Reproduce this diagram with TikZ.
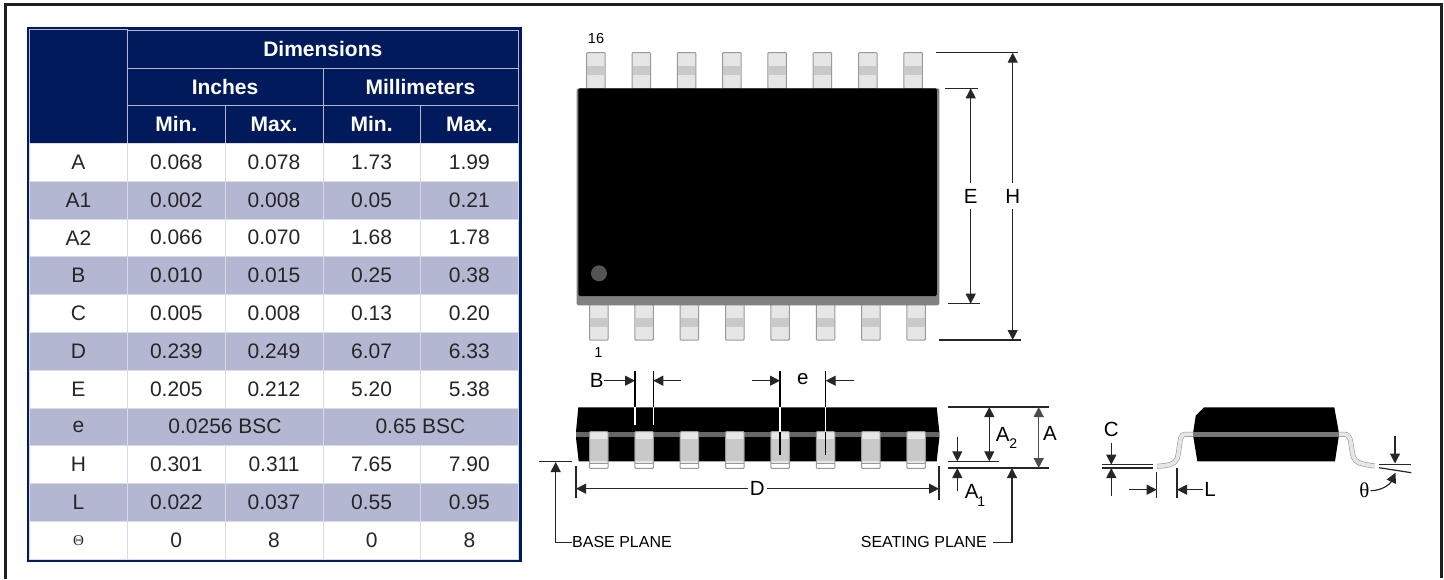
\documentclass[tikz,border=0pt]{standalone}
\usepackage{xcolor}
\usepackage{fontspec}
\setmainfont{Liberation Sans}
\newfontfamily\thetafont{Liberation Serif}
\usetikzlibrary{arrows.meta, calc}

\definecolor{tablenavy}{HTML}{001A5C}
\definecolor{tableband}{HTML}{B3B7D1}
\definecolor{tablegrid}{HTML}{D9DBE9}
\definecolor{leadlight}{HTML}{E6E6E6}
\definecolor{leadmid}{HTML}{C9C9C9}
\definecolor{leadedge}{HTML}{999999}

\tikzset{
    headcell/.style={rectangle, draw=tableband, fill=tablenavy, text=white, inner sep=0pt,
          font=\fontsize{21}{23}\selectfont\bfseries},
    bodycell/.style={rectangle, draw=tablegrid, inner sep=0pt, text=black!85,
          font=\fontsize{21}{23}\selectfont},
    dimlabel/.style={inner sep=1pt, minimum height=26pt, font=\fontsize{20.5}{23}\selectfont},
    smalllabel/.style={inner sep=0pt, font=\fontsize{16}{18}\selectfont},
    sublabel/.style={inner sep=0pt, font=\fontsize{14}{16}\selectfont},
    pinlabel/.style={inner sep=0pt, font=\fontsize{14.5}{16}\selectfont},
    dimline/.style={draw=black!85, line width=1.2pt, -{Triangle[length=10pt,width=10pt]}},
    dimboth/.style={draw=black!85, line width=1.2pt, {Triangle[length=10pt,width=10pt]}-{Triangle[length=10pt,width=10pt]}},
    plainline/.style={draw=black!85, line width=1.2pt},
    leadbox/.style={draw=leadedge, fill=leadlight, line width=1pt, rounded corners=0.8pt},
    sidelead/.style={draw=leadedge, double=leadlight, line width=0.6pt, double distance=3.8pt}
}

\begin{document}
\begin{tikzpicture}[x=1pt, y=-1pt]
    \useasboundingbox (0,0) rectangle (1444,579);
    \draw[line width=3pt, draw=black!88] (5,579) -- (5,4) -- (1441.5,4) -- (1441.5,578);

    % table
    \fill[tablenavy] (27,27) rectangle (521.5,562);
    \node[headcell, minimum width=97.8pt, minimum height=113.2pt] (corner) at (78.5,86.1) {};
    \node[headcell, minimum width=390.8pt, minimum height=37.8pt] (dims) at (322.8,48.9) {Dimensions};
    \node[headcell, minimum width=195.3pt, minimum height=37.8pt] (inches) at (225.05,86.7) {Inches};
    \node[headcell, minimum width=195.5pt, minimum height=37.8pt] (millim) at (420.45,86.7) {Millimeters};
    \foreach \cx/\lab [count=\c] in {176.3/Min., 274/Max., 371.6/Min., 469.4/Max.}
        \node[headcell, minimum width=97.7pt, minimum height=37.8pt] (head\c) at (\cx,124.3) {\lab};
    \foreach \n/\a/\b/\p/\q/\bandcol [count=\r from 0] in {
        A/0.068/0.078/1.73/1.99/white,
        A1/0.002/0.008/0.05/0.21/tableband,
        A2/0.066/0.070/1.68/1.78/white,
        B/0.010/0.015/0.25/0.38/tableband,
        C/0.005/0.008/0.13/0.20/white,
        D/0.239/0.249/6.07/6.33/tableband,
        E/0.205/0.212/5.20/5.38/white,
        e/-/-/-/-/tableband,
        H/0.301/0.311/7.65/7.90/white,
        L/0.022/0.037/0.55/0.95/tableband,
        {\fontsize{15}{17}\selectfont\thetafont Θ}/0/8/0/8/white}{
        \pgfmathsetmacro{\ry}{162.1+37.8*\r}
        \node[bodycell, fill=\bandcol, minimum width=97.8pt, minimum height=37.8pt] (name\r) at (78.5,\ry) {\n};
        \ifnum\r=7
            \node[bodycell, fill=\bandcol, minimum width=195.3pt, minimum height=37.8pt] (ebscin) at (225.05,\ry) {0.0256 BSC};
            \node[bodycell, fill=\bandcol, minimum width=195.5pt, minimum height=37.8pt] (ebscmm) at (420.45,\ry) {0.65 BSC};
        \else
            \node[bodycell, fill=\bandcol, minimum width=97.7pt, minimum height=37.8pt] (mina\r) at (176.3,\ry) {\a};
            \node[bodycell, fill=\bandcol, minimum width=97.7pt, minimum height=37.8pt] (maxa\r) at (274,\ry) {\b};
            \node[bodycell, fill=\bandcol, minimum width=97.7pt, minimum height=37.8pt] (minb\r) at (371.6,\ry) {\p};
            \node[bodycell, fill=\bandcol, minimum width=97.7pt, minimum height=37.8pt] (maxb\r) at (469.4,\ry) {\q};
        \fi
    }

    % top view
    \foreach \i in {0,...,7}{
        \path[leadbox] ({586.7+45.3*\i},52.7) rectangle ({605.2+45.3*\i},88.5);
        \fill[leadmid] ({587.2+45.3*\i},65.7) rectangle ({604.7+45.3*\i},75);
        \path[leadbox] ({589.5+45.35*\i},304) rectangle ({608+45.35*\i},340);
        \fill[leadmid] ({590+45.35*\i},318) rectangle ({607.5+45.35*\i},326.7);
    }
    \fill[black!50, rounded corners=1.5pt] (576.7,88.3) rectangle (939.3,305.3);
    \fill[black, rounded corners=1.5pt] (578.3,88.3) rectangle (936.8,296);
    \fill[black!67] (599,273.3) circle (8pt);
    \node[pinlabel] (pin16) at (596,38.3) {16};
    \node[pinlabel] (pin1) at (598.3,352.3) {1};

    \coordinate (Hup) at (1012.7,52.7);
    \coordinate (Hdown) at (1012.7,340);
    \coordinate (Eup) at (970.7,88.3);
    \coordinate (Edown) at (970.7,303.7);
    \node[dimlabel] (Hlab) at (1012.7,196) {H};
    \node[dimlabel] (Elab) at (970.7,196) {E};
    \draw[plainline] (936,52.7) -- (1018,52.7);
    \draw[plainline] (938.7,340) -- (1021.3,340);
    \draw[plainline] (945,88.3) -- (977.7,88.3);
    \draw[plainline] (948,303.7) -- (980,303.7);
    \draw[dimline] (Hlab) -- (Hup);
    \draw[dimline] (Hlab) -- (Hdown);
    \draw[dimline] (Elab) -- (Eup);
    \draw[dimline] (Elab) -- (Edown);

    % front view
    \fill[black] (578.3,407.3) -- (936.7,407.3) -- (939.3,431.7) -- (939.3,438)
        -- (936.7,461.3) -- (578.7,461.3) -- (576,438) -- (576,431.7) -- cycle;
    \fill[black!60] (576,431.7) rectangle (939.3,436.7);
    \foreach \i in {0,...,7}{
        \fill[leadmid] ({589.5+45.35*\i},432) rectangle ({608+45.35*\i},463.5);
        \fill[leadlight] ({589.5+45.35*\i},432) rectangle ({608+45.35*\i},439.3);
        \fill[leadlight] ({589.5+45.35*\i},461) rectangle ({608+45.35*\i},463.5);
        \path[draw=leadedge, line width=1pt, rounded corners=0.8pt, fill=none]
            ({589.5+45.35*\i},431.7) rectangle ({608+45.35*\i},468.3);
        \draw[leadedge, line width=0.8pt] ({589.5+45.35*\i},463.4) -- ({608+45.35*\i},463.4);
    }

    \node[dimlabel] (Blab) at (596.7,380.7) {B};
    \coordinate (Btipa) at (635,380.7);
    \coordinate (Btipb) at (653.3,380.7);
    \coordinate (Bfrom) at (680.7,380.7);
    \draw[dimline, shorten <=-1pt] (Blab) -- (Btipa);
    \draw[dimline] (Bfrom) -- (Btipb);
    \node[dimlabel] (elab) at (802.7,379) {e};
    \coordinate (etipa) at (780,380.7);
    \coordinate (etipb) at (825.7,380.7);
    \coordinate (efroma) at (752,380.7);
    \coordinate (efromb) at (854,380.7);
    \draw[dimline] (efroma) -- (etipa);
    \draw[dimline] (efromb) -- (etipb);
    \foreach \tx in {635,653.3,780,825.7}
        \draw[black, line width=1.2pt] (\tx,371) -- (\tx,407.3);
    \foreach \tx in {635,653.3}
        \draw[white, line width=1.4pt] (\tx,407.3) -- (\tx,424.7);
    \foreach \tx in {780,825.7}{
        \draw[white, line width=1.4pt] (\tx,407.3) -- (\tx,432);
        \draw[black, line width=1.2pt] (\tx,432) -- (\tx,455);
    }

    \node[dimlabel, minimum height=20pt, inner sep=2pt] (Dlab) at (757.3,488.7) {D};
    \coordinate (Dleft) at (576,488.7);
    \coordinate (Dright) at (939,488.7);
    \draw[dimline] (Dlab) -- (Dleft);
    \draw[dimline] (Dlab) -- (Dright);
    \draw[plainline] (576,466) -- (576,497.7);
    \draw[plainline] (939,466) -- (939,500);

    \node[smalllabel, anchor=west] (baseplane) at (572,542.3) {BASE PLANE};
    \node[smalllabel, anchor=east] (seatplane) at (987,542.3) {SEATING PLANE};
    \coordinate (basetip) at (555.7,462);
    \coordinate (seattip) at (1012,468);
    \draw[plainline] (539.3,461.3) -- (572.3,461.3);
    \draw[dimline] (baseplane.west) -| (basetip);
    \draw[dimline, shorten <=6pt] (seatplane.east) -| (seattip);

    \draw[plainline] (948,407) -- (1048.7,407);
    \draw[plainline] (948,461.3) -- (998.7,461.3);
    \draw[plainline] (948,468) -- (1048.7,468);
    \coordinate (Atwoup) at (989.3,407);
    \coordinate (Atwodown) at (989.3,461.3);
    \coordinate (Aup) at (1038.7,407);
    \coordinate (Adown) at (1038.7,468);
    \draw[dimboth] (Atwoup) -- (Atwodown);
    \draw[dimboth, black!70, line width=1.4pt] (Aup) -- (Adown);
    \coordinate (Aonea) at (957.3,436.7);
    \coordinate (Aoneb) at (957.3,461.3);
    \coordinate (Aonec) at (957.3,491.3);
    \coordinate (Aoned) at (957.3,468);
    \draw[dimline] (Aonea) -- (Aoneb);
    \draw[dimline] (Aonec) -- (Aoned);
    \node[dimlabel, minimum height=0pt] (Atwolab) at (1002.7,434.3) {A};
    \node[sublabel] (Atwosub) at (1013.3,444) {2};
    \node[dimlabel, minimum height=0pt] (Aonelab) at (971.7,491.7) {A};
    \node[sublabel] (Aonesub) at (981.3,501.5) {1};
    \node[dimlabel, minimum height=0pt] (Alab) at (1050,433.5) {A};

    % side view
    \draw[sidelead] (1157.3,466.3) .. controls (1170,465.5) and (1175,464) .. (1177.3,458.3)
        .. controls (1179,452) and (1179.5,443) .. (1180.7,438.3)
        .. controls (1181.5,435.5) and (1183,434.3) .. (1185,434.3) -- (1194,434.3);
    \draw[sidelead] (1338,434.3) -- (1345,434.3)
        .. controls (1348,434.3) and (1350,438) .. (1350.7,441.7)
        .. controls (1351.5,447) and (1352,452) .. (1353.3,456.7)
        .. controls (1355,462) and (1359,464) .. (1374.7,466);
    \fill[black] (1204,407.3) -- (1334.3,407.3) -- (1338.7,431.7) -- (1338.7,436.7)
        -- (1335,461.3) -- (1197.3,461.3) -- (1193.3,436.7) -- (1193.3,431.7) -- (1195.7,415.7) -- cycle;
    \fill[black!53] (1193.3,432.3) rectangle (1338.7,436.7);

    \node[dimlabel, minimum height=0pt] (Clab) at (1111.3,429) {C};
    \node[dimlabel, minimum height=0pt] (Llab) at (1210,489.7) {L};
    \coordinate (Cdowna) at (1111.3,442.7);
    \coordinate (Cdownb) at (1111.3,464.7);
    \coordinate (Cupa) at (1111.3,495.7);
    \coordinate (Cupb) at (1111.3,468);
    \draw[dimline] (Cdowna) -- (Cdownb);
    \draw[dimline] (Cupa) -- (Cupb);
    \draw[plainline] (1102.3,464.7) -- (1152.7,464.7);
    \draw[plainline] (1102.3,468) -- (1152.7,468);
    \coordinate (Lfrom) at (1129.3,489.7);
    \coordinate (Ltipa) at (1156.7,489.7);
    \coordinate (Ltipb) at (1177,489.7);
    \draw[dimline] (Lfrom) -- (Ltipa);
    \draw[dimline] (Llab) -- (Ltipb);
    \draw[plainline] (1156.7,472.3) -- (1156.7,497.7);
    \draw[plainline] (1177,468.3) -- (1177,497.7);

    \coordinate (thetaup) at (1395,436);
    \coordinate (thetatip) at (1395,463.5);
    \coordinate (slanttip) at (1395.5,472.7);
    \node[inner sep=1pt, font=\fontsize{21}{23}\selectfont\thetafont] (thetalab) at (1364.3,490.7) {θ};
    \draw[dimline] (thetaup) -- (thetatip);
    \draw[plainline] (1379,464.7) -- (1411.3,464.7);
    \draw[plainline] (1379,467.7) -- (1411.3,472.7);
    \draw[dimline] (thetalab.east) to[out=0, in=-115] (slanttip);
\end{tikzpicture}
\end{document}
